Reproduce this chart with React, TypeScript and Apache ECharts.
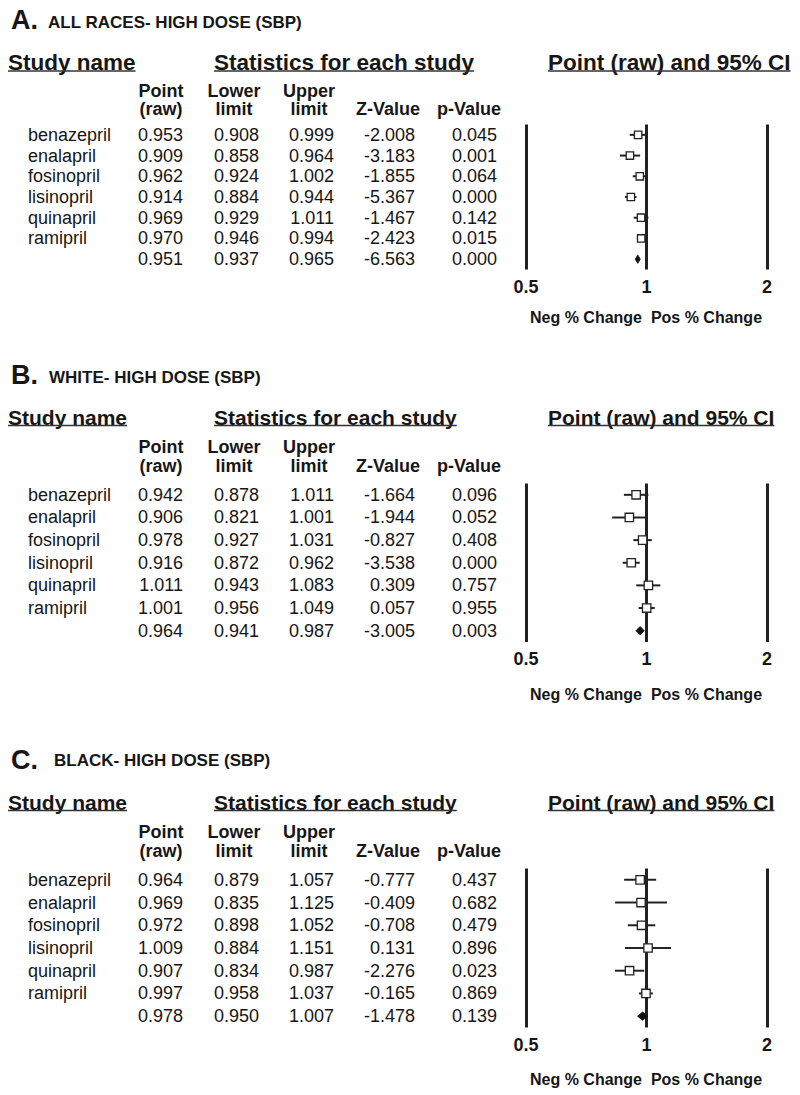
import React, { useEffect, useRef } from "react";
import * as echarts from "echarts";

// ---------------- data ----------------
const studies = ["benazepril", "enalapril", "fosinopril", "lisinopril", "quinapril", "ramipril", ""];

const allPoint = [0.953, 0.909, 0.962, 0.914, 0.969, 0.97, 0.951];
const allLower = [0.908, 0.858, 0.924, 0.884, 0.929, 0.946, 0.937];
const allUpper = [0.999, 0.964, 1.002, 0.944, 1.011, 0.994, 0.965];
const allZ = [-2.008, -3.183, -1.855, -5.367, -1.467, -2.423, -6.563];
const allP = [0.045, 0.001, 0.064, 0.0, 0.142, 0.015, 0.0];

const whitePoint = [0.942, 0.906, 0.978, 0.916, 1.011, 1.001, 0.964];
const whiteLower = [0.878, 0.821, 0.927, 0.872, 0.943, 0.956, 0.941];
const whiteUpper = [1.011, 1.001, 1.031, 0.962, 1.083, 1.049, 0.987];
const whiteZ = [-1.664, -1.944, -0.827, -3.538, 0.309, 0.057, -3.005];
const whiteP = [0.096, 0.052, 0.408, 0.0, 0.757, 0.955, 0.003];

const blackPoint = [0.964, 0.969, 0.972, 1.009, 0.907, 0.997, 0.978];
const blackLower = [0.879, 0.835, 0.898, 0.884, 0.834, 0.958, 0.95];
const blackUpper = [1.057, 1.125, 1.052, 1.151, 0.987, 1.037, 1.007];
const blackZ = [-0.777, -0.409, -0.708, 0.131, -2.276, -0.165, -1.478];
const blackP = [0.437, 0.682, 0.479, 0.896, 0.023, 0.869, 0.139];

const panelLetters = ["A.", "B.", "C."];
const panelTitles = ["ALL RACES- HIGH DOSE (SBP)", "WHITE- HIGH DOSE (SBP)", "BLACK- HIGH DOSE (SBP)"];
const headStudy = "Study name";
const headStats = "Statistics for each study";
const headPlot = "Point (raw) and 95% CI";
const colHeadTop = ["Point", "Lower", "Upper", "", ""];
const colHeadBottom = ["(raw)", "limit", "limit", "Z-Value", "p-Value"];
const xTicks = [0.5, 1, 2];
const footText = "Neg % Change  Pos % Change";

const panelData = [
  { point: allPoint, lower: allLower, upper: allUpper, z: allZ, p: allP },
  { point: whitePoint, lower: whiteLower, upper: whiteUpper, z: whiteZ, p: whiteP },
  { point: blackPoint, lower: blackLower, upper: blackUpper, z: blackZ, p: blackP },
];

// ---------------- layout ----------------
const FONT = '"Liberation Sans", Arial, Helvetica, sans-serif';
const INK = "#161616";
const layouts = [
  { letterY: 20, titleX: 48, titleY: 22, headY: 62, ulY: 71, headFont: 22.5, h1: 91, h2: 109, gridTop: 124.5, gridH: 145, footY: 317, sq: 7.4, studyW: 129 },
  { letterY: 375, titleX: 49, titleY: 377, headY: 417, ulY: 425.5, headFont: 21, h1: 447, h2: 466, gridTop: 483.5, gridH: 158.5, footY: 694, sq: 8.4, studyW: 120 },
  { letterY: 760, titleX: 54, titleY: 760, headY: 802, ulY: 810.5, headFont: 21, h1: 832, h2: 851, gridTop: 868.5, gridH: 159, footY: 1079, sq: 8.4, studyW: 120 },
];
const nameX = 28;
const colRight = [183, 259, 334, 415, 497];
const colCenter = [161, 234, 309, 388, 469];
const studyX = 8;
const statsX = 214;
const plotX = 548;
const gridLeft = 526;
const gridRight = 33;

function measure(text: string, font: string): number {
  const c = document.createElement("canvas");
  const ctx = c.getContext("2d");
  if (!ctx) return text.length * 10;
  ctx.font = font;
  return ctx.measureText(text).width;
}

export default function App() {
  const ref = useRef<HTMLDivElement>(null);
  useEffect(() => {
    if (!ref.current) return;
    const chart = echarts.init(ref.current, null, { renderer: "svg" });

    const grids: any[] = [];
    const xAxes: any[] = [];
    const yAxes: any[] = [];
    const series: any[] = [];
    const graphics: any[] = [];

    layouts.forEach((L, i) => {
      const d = panelData[i];
      grids.push({ left: gridLeft, right: gridRight, top: L.gridTop, height: L.gridH, containLabel: false });
      xAxes.push({
        type: "log",
        logBase: 2,
        min: xTicks[0],
        max: xTicks[xTicks.length - 1],
        gridIndex: i,
        axisLine: { show: false },
        axisTick: { show: false },
        splitLine: { show: true, lineStyle: { color: "#222", width: 3 } },
        axisLabel: {
          fontSize: 18,
          fontWeight: "bold",
          fontFamily: FONT,
          color: INK,
          margin: 8,
          formatter: (v: number) => String(Math.round(v * 100) / 100),
        },
      });
      yAxes.push({
        type: "category",
        gridIndex: i,
        inverse: true,
        data: studies.map((s, k) => (s === "" ? "Summary" : s)),
        show: false,
      });
      const rows = d.point.map((v, k) => [v, d.lower[k], d.upper[k], k, k === d.point.length - 1 ? 1 : 0]);
      const sq = L.sq;
      series.push({
        type: "custom",
        xAxisIndex: i,
        yAxisIndex: i,
        encode: { x: [0, 1, 2], y: 3 },
        data: rows,
        z: 5,
        renderItem: (params: any, api: any) => {
          const idx = api.value(3);
          const pt = api.coord([api.value(0), idx]);
          const lo = api.coord([api.value(1), idx]);
          const hi = api.coord([api.value(2), idx]);
          if (api.value(4) === 1) {
            const h = 4.2;
            return {
              type: "polygon",
              shape: { points: [[lo[0], pt[1]], [pt[0], pt[1] - h], [hi[0], pt[1]], [pt[0], pt[1] + h]] },
              style: { fill: "#111", stroke: "#111", lineWidth: 0.8 },
            };
          }
          return {
            type: "group",
            children: [
              { type: "line", shape: { x1: lo[0], y1: pt[1], x2: hi[0], y2: pt[1] }, style: { stroke: "#222", lineWidth: 2 } },
              {
                type: "rect",
                shape: { x: pt[0] - sq / 2, y: pt[1] - sq / 2, width: sq, height: sq },
                style: { fill: "#fff", stroke: "#222", lineWidth: 1.3 },
              },
            ],
          };
        },
      });

      // ----- texts -----
      const txt = (text: string, x: number, y: number, size: number, bold: boolean, align = "left") => ({
        type: "text",
        x,
        y,
        silent: true,
        style: {
          text,
          fill: INK,
          font: `${bold ? "bold " : ""}${size}px ${FONT}`,
          textAlign: align,
          textVerticalAlign: "middle",
        },
      });
      graphics.push(txt(panelLetters[i], 11, L.letterY, 27, true));
      graphics.push(txt(panelTitles[i], L.titleX, L.titleY, 17, true));
      const headFontStr = `bold ${L.headFont}px ${FONT}`;
      [
        [headStudy, studyX],
        [headStats, statsX],
        [headPlot, plotX],
      ].forEach(([t, x]) => {
        graphics.push(txt(t as string, x as number, L.headY, L.headFont, true));
        const w = measure(t as string, headFontStr);
        graphics.push({
          type: "line",
          silent: true,
          shape: { x1: x as number, y1: L.ulY, x2: (x as number) + w, y2: L.ulY },
          style: { stroke: "#333", lineWidth: 1.6 },
        });
      });
      colHeadTop.forEach((t, c) => {
        if (t) graphics.push(txt(t, colCenter[c], L.h1, 18, true, "center"));
        graphics.push(txt(colHeadBottom[c], colCenter[c], L.h2, 18, true, "center"));
      });
      const rowY = (k: number) => L.gridTop + (L.gridH / studies.length) * (k + 0.5);
      studies.forEach((s, k) => {
        const y = rowY(k);
        if (s) graphics.push(txt(s, nameX, y, 18, false));
        const vals = [d.point[k], d.lower[k], d.upper[k], d.z[k], d.p[k]];
        vals.forEach((v, c) => {
          graphics.push(txt(v.toFixed(3), colRight[c], y, 18, false, "right"));
        });
      });
      graphics.push(txt(footText, 646, L.footY, 16, true, "center"));
    });

    chart.setOption({
      animation: false,
      backgroundColor: "#ffffff",
      grid: grids,
      xAxis: xAxes,
      yAxis: yAxes,
      series,
      graphic: graphics,
    });
    return () => chart.dispose();
  }, []);
  return (
    <div
      ref={ref}
      style={{ position: "absolute", left: 0, top: 0, width: 800, height: 1095, background: "#fff" }}
    />
  );
}
